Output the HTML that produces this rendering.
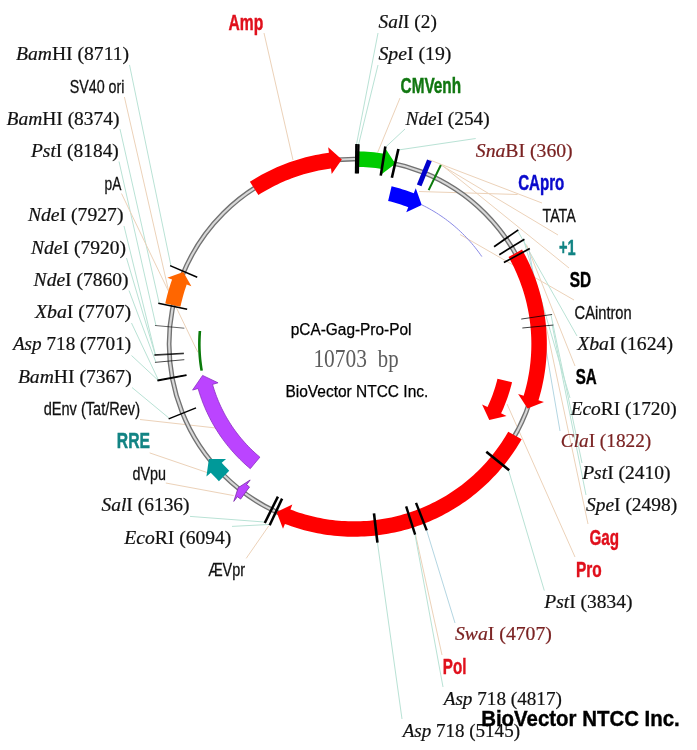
<!DOCTYPE html>
<html><head><meta charset="utf-8"><title>pCA-Gag-Pro-Pol</title>
<style>html,body{margin:0;padding:0;background:#fff}svg{display:block;will-change:transform;filter:blur(0.45px)}</style></head>
<body>
<svg width="697" height="750" viewBox="0 0 697 750">
<rect width="697" height="750" fill="#fff"/>
<line x1="129.5" y1="64.9" x2="171.01" y2="266.07" stroke="#b9e2d5" stroke-width="1"/>
<line x1="124.4" y1="97" x2="168.58" y2="290.85" stroke="#ecd2b9" stroke-width="1"/>
<line x1="120" y1="129" x2="159.27" y2="303.53" stroke="#b9e2d5" stroke-width="1"/>
<line x1="119" y1="161.5" x2="155.96" y2="325.56" stroke="#b9e2d5" stroke-width="1"/>
<line x1="121.5" y1="193.5" x2="197.81" y2="352.24" stroke="#ecd2b9" stroke-width="1"/>
<line x1="124" y1="226" x2="155.38" y2="354.64" stroke="#b9e2d5" stroke-width="1"/>
<line x1="126.5" y1="258" x2="155.42" y2="355.33" stroke="#b9e2d5" stroke-width="1"/>
<line x1="129" y1="290.5" x2="155.94" y2="362.29" stroke="#b9e2d5" stroke-width="1"/>
<line x1="131.5" y1="323" x2="158.37" y2="379.97" stroke="#b9e2d5" stroke-width="1"/>
<line x1="131.5" y1="355.5" x2="158.5" y2="380.66" stroke="#b9e2d5" stroke-width="1"/>
<line x1="132" y1="387.5" x2="169.59" y2="418.6" stroke="#b9e2d5" stroke-width="1"/>
<line x1="140" y1="419.5" x2="216" y2="428" stroke="#ecd2b9" stroke-width="1"/>
<line x1="149.7" y1="452.9" x2="208.5" y2="473" stroke="#ecd2b9" stroke-width="1"/>
<line x1="165.8" y1="483" x2="233.7" y2="495.6" stroke="#ecd2b9" stroke-width="1"/>
<line x1="190" y1="516.4" x2="265.18" y2="522.08" stroke="#b9e2d5" stroke-width="1"/>
<line x1="232" y1="526.4" x2="270.06" y2="524.43" stroke="#b9e2d5" stroke-width="1"/>
<line x1="246.2" y1="558.4" x2="268.8" y2="525.8" stroke="#ecd2b9" stroke-width="1"/>
<line x1="264" y1="33" x2="293" y2="160" stroke="#ecd2b9" stroke-width="1"/>
<line x1="378" y1="33" x2="356.36" y2="145.06" stroke="#b9e2d5" stroke-width="1"/>
<line x1="378" y1="65" x2="358.44" y2="145.1" stroke="#b9e2d5" stroke-width="1"/>
<line x1="400" y1="98" x2="377.62" y2="152.49" stroke="#ecd2b9" stroke-width="1"/>
<line x1="405" y1="129" x2="385.2" y2="147.49" stroke="#b9e2d5" stroke-width="1"/>
<line x1="475.7" y1="138.5" x2="398.19" y2="150" stroke="#b9e2d5" stroke-width="1"/>
<line x1="517.6" y1="194.5" x2="419" y2="191.5" stroke="#ecd2b9" stroke-width="1"/>
<line x1="542" y1="203" x2="429.61" y2="159.93" stroke="#ecd2b9" stroke-width="1"/>
<line x1="558" y1="235" x2="440.87" y2="164.96" stroke="#ecd2b9" stroke-width="1"/>
<line x1="569" y1="268" x2="442.89" y2="165.96" stroke="#ecd2b9" stroke-width="1"/>
<line x1="574" y1="300" x2="460" y2="234.5" stroke="#ecd2b9" stroke-width="1"/>
<line x1="577" y1="336" x2="517.47" y2="230.42" stroke="#b9e2d5" stroke-width="1"/>
<line x1="575" y1="366" x2="526.44" y2="244.55" stroke="#ecd2b9" stroke-width="1"/>
<line x1="570" y1="398" x2="523.58" y2="239.75" stroke="#b9e2d5" stroke-width="1"/>
<line x1="560" y1="431" x2="528.92" y2="248.97" stroke="#b4d6e2" stroke-width="1"/>
<line x1="582" y1="463" x2="550.91" y2="314.64" stroke="#b9e2d5" stroke-width="1"/>
<line x1="586" y1="495" x2="552.2" y2="325.15" stroke="#b9e2d5" stroke-width="1"/>
<line x1="588" y1="524" x2="546.37" y2="327.23" stroke="#ecd2b9" stroke-width="1"/>
<line x1="575" y1="557" x2="507" y2="404" stroke="#ecd2b9" stroke-width="1"/>
<line x1="544.3" y1="590.6" x2="508.4" y2="469.72" stroke="#b9e2d5" stroke-width="1"/>
<line x1="455" y1="623" x2="426.39" y2="529.46" stroke="#b4d6e2" stroke-width="1"/>
<line x1="442" y1="655" x2="415.6" y2="535" stroke="#ecd2b9" stroke-width="1"/>
<line x1="443" y1="687" x2="414.83" y2="533.56" stroke="#b9e2d5" stroke-width="1"/>
<line x1="402" y1="719" x2="377.32" y2="541.69" stroke="#b9e2d5" stroke-width="1"/>
<circle cx="354.1" cy="344.05" r="185.0" fill="none" stroke="#727272" stroke-width="4.8"/>
<circle cx="354.1" cy="344.05" r="185.0" fill="none" stroke="#d8d8d8" stroke-width="2.1"/>
<path d="M249.89,181.72 L252.76,179.91 L255.66,178.16 L258.6,176.45 L261.56,174.8 L264.55,173.2 L267.57,171.65 L270.62,170.15 L273.69,168.71 L276.79,167.32 L279.91,165.99 L283.05,164.71 L286.22,163.49 L289.4,162.32 L292.61,161.21 L295.84,160.16 L299.08,159.16 L302.34,158.22 L305.62,157.34 L308.91,156.52 L312.22,155.75 L315.54,155.04 L318.87,154.39 L322.21,153.8 L325.56,153.27 L328.92,152.8 L328.19,147.25 L341.84,159.46 L331.71,174.02 L330.98,168.47 L327.9,168.9 L324.82,169.39 L321.75,169.93 L318.7,170.53 L315.65,171.17 L312.61,171.88 L309.59,172.63 L306.58,173.44 L303.59,174.31 L300.61,175.22 L297.65,176.19 L294.7,177.21 L291.78,178.28 L288.87,179.4 L285.98,180.57 L283.12,181.8 L280.28,183.07 L277.45,184.39 L274.66,185.77 L271.89,187.19 L269.14,188.66 L266.42,190.18 L263.73,191.74 L261.06,193.36 L258.42,195.02Z" fill="#ff0000"/>
<path d="M357.13,151.32 L360.53,151.41 L363.93,151.55 L367.32,151.75 L370.71,152.02 L374.1,152.34 L377.48,152.72 L380.85,153.17 L384.22,153.67 L385.12,147.99 L395.4,163.72 L380.9,174.66 L381.8,168.98 L378.7,168.52 L375.6,168.11 L372.49,167.76 L369.38,167.46 L366.26,167.22 L363.14,167.03 L360.01,166.9 L356.88,166.82Z" fill="#00cc00"/>
<path d="M391.58,186.34 L394.41,187.04 L397.22,187.79 L400.02,188.59 L402.8,189.44 L405.57,190.34 L408.32,191.29 L411.06,192.29 L413.77,193.33 L415.76,188.31 L421.75,205.04 L406.26,212.3 L408.25,207.28 L405.79,206.33 L403.31,205.42 L400.81,204.56 L398.3,203.75 L395.77,202.98 L393.23,202.25 L390.68,201.57 L388.12,200.94Z" fill="#0000ff"/>
<path d="M421.84,204.86 L424.31,206.09 L426.76,207.36 L429.19,208.68 L431.59,210.04 L433.97,211.45 L436.32,212.89 L438.65,214.38 L440.95,215.91 L443.23,217.48 L445.47,219.09 L447.68,220.74 L449.87,222.43 L452.02,224.16 L454.15,225.93 L456.24,227.73 L458.3,229.57 L460.33,231.45 L462.32,233.36 L464.28,235.31 L466.2,237.29 L468.09,239.31 L469.94,241.36 L471.75,243.44 L473.53,245.56 L475.27,247.71 L476.96,249.88 L478.63,252.09 L480.25,254.33 L481.83,256.59" fill="none" stroke="#8a8ae6" stroke-width="1"/>
<path d="M522.03,249.43 L523.66,252.4 L525.25,255.39 L526.78,258.42 L528.26,261.47 L529.69,264.54 L531.06,267.64 L532.38,270.77 L533.64,273.92 L534.84,277.08 L535.99,280.27 L537.09,283.48 L538.12,286.71 L539.1,289.96 L540.03,293.22 L540.89,296.5 L541.7,299.79 L542.45,303.1 L543.14,306.42 L543.77,309.75 L544.35,313.09 L544.86,316.44 L545.32,319.8 L545.72,323.17 L546.05,326.54 L546.33,329.92 L546.55,333.3 L546.71,336.69 L546.81,340.08 L546.85,343.47 L546.83,346.86 L546.75,350.25 L546.61,353.64 L546.41,357.02 L546.16,360.4 L545.84,363.78 L545.46,367.15 L545.03,370.51 L544.53,373.86 L543.98,377.21 L543.36,380.54 L542.69,383.86 L541.96,387.18 L541.18,390.47 L540.33,393.76 L539.43,397.02 L538.47,400.28 L543.97,401.95 L527.55,408.38 L518.14,394.08 L523.64,395.75 L524.52,392.76 L525.35,389.76 L526.13,386.74 L526.86,383.71 L527.53,380.66 L528.14,377.61 L528.71,374.54 L529.22,371.46 L529.67,368.38 L530.07,365.29 L530.42,362.19 L530.71,359.09 L530.95,355.98 L531.13,352.86 L531.26,349.75 L531.33,346.63 L531.35,343.51 L531.31,340.4 L531.22,337.28 L531.07,334.17 L530.87,331.06 L530.62,327.95 L530.31,324.85 L529.94,321.75 L529.52,318.66 L529.05,315.58 L528.52,312.51 L527.94,309.44 L527.3,306.39 L526.61,303.35 L525.87,300.32 L525.08,297.31 L524.23,294.31 L523.33,291.32 L522.37,288.35 L521.37,285.4 L520.31,282.47 L519.2,279.56 L518.04,276.66 L516.83,273.79 L515.57,270.94 L514.26,268.11 L512.9,265.3 L511.49,262.52 L510.03,259.77 L508.52,257.04Z" fill="#ff0000"/>
<path d="M512.04,382.26 L511.31,385.17 L510.52,388.07 L509.68,390.96 L508.79,393.82 L507.84,396.67 L506.84,399.51 L505.79,402.32 L504.69,405.11 L503.54,407.89 L502.33,410.64 L501.07,413.37 L506.5,415.93 L489.27,419.9 L482.08,404.41 L487.51,406.97 L488.65,404.49 L489.74,402 L490.79,399.48 L491.79,396.94 L492.74,394.39 L493.65,391.82 L494.51,389.23 L495.32,386.63 L496.08,384.01 L496.8,381.38 L497.46,378.73Z" fill="#ff0000"/>
<path d="M521.65,439.23 L519.96,442.16 L518.21,445.05 L516.41,447.92 L514.56,450.75 L512.67,453.55 L510.72,456.31 L508.73,459.05 L506.68,461.74 L504.6,464.4 L502.46,467.02 L500.28,469.61 L498.06,472.15 L495.79,474.66 L493.47,477.12 L491.11,479.55 L488.72,481.93 L486.28,484.27 L483.8,486.57 L481.27,488.83 L478.71,491.03 L476.12,493.2 L473.48,495.32 L470.81,497.39 L468.1,499.41 L465.35,501.39 L462.58,503.32 L459.77,505.2 L456.92,507.03 L454.05,508.8 L451.14,510.53 L448.2,512.21 L445.24,513.84 L442.24,515.41 L439.22,516.93 L436.18,518.4 L433.11,519.81 L430.01,521.17 L426.89,522.47 L423.75,523.72 L420.58,524.92 L417.4,526.06 L414.2,527.14 L410.98,528.17 L407.74,529.14 L404.48,530.05 L401.21,530.9 L397.92,531.7 L394.62,532.44 L391.31,533.12 L387.99,533.75 L384.65,534.31 L381.31,534.82 L377.96,535.27 L374.6,535.66 L371.23,535.99 L367.86,536.26 L364.49,536.47 L361.11,536.62 L357.73,536.72 L354.35,536.75 L350.97,536.72 L347.59,536.64 L344.21,536.5 L340.83,536.29 L337.46,536.03 L334.1,535.71 L330.74,535.33 L327.38,534.89 L324.04,534.39 L320.7,533.83 L317.38,533.22 L314.06,532.55 L310.76,531.81 L307.48,531.02 L304.2,530.18 L300.94,529.27 L297.7,528.31 L294.48,527.29 L291.27,526.22 L288.08,525.09 L284.92,523.9 L283.01,528.85 L276.5,511.99 L292.35,504.58 L290.45,509.53 L293.36,510.62 L296.29,511.66 L299.24,512.65 L302.21,513.59 L305.19,514.47 L308.19,515.3 L311.2,516.08 L314.23,516.81 L317.26,517.48 L320.31,518.1 L323.37,518.67 L326.44,519.18 L329.52,519.64 L332.6,520.04 L335.69,520.39 L338.79,520.69 L341.89,520.93 L345,521.12 L348.11,521.25 L351.22,521.33 L354.33,521.35 L357.44,521.32 L360.55,521.23 L363.66,521.09 L366.76,520.9 L369.86,520.65 L372.96,520.34 L376.05,519.99 L379.14,519.57 L382.21,519.11 L385.28,518.59 L388.34,518.01 L391.38,517.39 L394.42,516.7 L397.44,515.97 L400.45,515.18 L403.45,514.34 L406.43,513.45 L409.39,512.51 L412.34,511.51 L415.27,510.46 L418.18,509.36 L421.07,508.21 L423.94,507.01 L426.79,505.76 L429.62,504.46 L432.42,503.11 L435.2,501.71 L437.95,500.27 L440.68,498.77 L443.38,497.23 L446.06,495.64 L448.7,494 L451.32,492.32 L453.91,490.59 L456.46,488.82 L458.99,487 L461.48,485.13 L463.94,483.23 L466.36,481.28 L468.76,479.29 L471.11,477.26 L473.43,475.18 L475.71,473.07 L477.96,470.91 L480.17,468.72 L482.33,466.49 L484.46,464.22 L486.55,461.91 L488.6,459.57 L490.6,457.19 L492.57,454.78 L494.49,452.34 L496.37,449.86 L498.2,447.34 L499.99,444.8 L501.74,442.22 L503.44,439.62 L505.09,436.98 L506.7,434.32 L508.26,431.63Z" fill="#ff0000"/>
<path d="M240.64,499.07 L237.42,496.66 L233.78,501.42 L238.18,487.71 L250.18,479.97 L246.53,484.74 L249.5,486.96Z" fill="#bb44ff" stroke="#7a2aa8" stroke-width="0.8"/>
<path d="M218.9,481.15 L216.14,478.37 L213.43,475.53 L210.78,472.64 L206.43,476.55 L208.88,458.99 L226.08,458.92 L221.72,462.82 L224.17,465.49 L226.67,468.11 L229.22,470.68Z" fill="#009999"/>
<path d="M250.27,468.67 L248.1,466.82 L245.95,464.93 L243.84,463.01 L241.76,461.05 L239.72,459.05 L237.71,457.02 L235.74,454.96 L233.81,452.85 L231.91,450.72 L230.05,448.55 L228.23,446.35 L226.45,444.12 L224.71,441.86 L223,439.56 L221.34,437.24 L219.72,434.89 L218.14,432.51 L216.61,430.1 L215.11,427.67 L213.66,425.21 L212.26,422.72 L210.89,420.21 L209.57,417.68 L208.3,415.12 L207.07,412.55 L205.89,409.95 L204.75,407.33 L203.66,404.69 L202.62,402.03 L201.62,399.35 L200.67,396.66 L199.77,393.95 L198.91,391.23 L198.11,388.49 L192.58,390.06 L202.61,375.42 L218.06,382.8 L212.53,384.38 L213.26,386.86 L214.04,389.34 L214.86,391.79 L215.72,394.24 L216.63,396.67 L217.57,399.08 L218.56,401.48 L219.6,403.85 L220.67,406.21 L221.78,408.55 L222.94,410.87 L224.14,413.17 L225.37,415.45 L226.65,417.7 L227.97,419.93 L229.32,422.14 L230.72,424.33 L232.15,426.49 L233.62,428.62 L235.13,430.73 L236.67,432.81 L238.25,434.87 L239.87,436.89 L241.52,438.89 L243.21,440.86 L244.93,442.79 L246.69,444.7 L248.48,446.58 L250.3,448.42 L252.15,450.23 L254.04,452.01 L255.95,453.75 L257.9,455.46 L259.88,457.14Z" fill="#bb44ff" stroke="#8a30c0" stroke-width="0.8"/>
<path d="M201.65,370.66 L201.19,367.85 L200.78,365.04 L200.42,362.22 L200.11,359.39 L199.86,356.56 L199.65,353.72 L199.5,350.88 L199.4,348.04 L199.35,345.2 L199.36,342.35 L199.42,339.51 L199.53,336.67 L199.69,333.83 L199.9,330.99" fill="none" stroke="#0a7a0a" stroke-width="2.6"/>
<path d="M165.24,303.56 L166.03,300.06 L166.88,296.58 L167.79,293.11 L168.77,289.65 L169.81,286.22 L170.92,282.81 L172.09,279.42 L167.37,277.74 L183.31,271.91 L191.4,286.28 L186.69,284.6 L185.62,287.72 L184.6,290.86 L183.64,294.02 L182.74,297.19 L181.9,300.39 L181.12,303.59 L180.4,306.81Z" fill="#ff6600"/>
<line x1="419.18" y1="185.38" x2="429.42" y2="160.4" stroke="#0000cc" stroke-width="5" opacity="1"/>
<line x1="428.66" y1="190.16" x2="440.87" y2="164.96" stroke="#0a7a0a" stroke-width="2" opacity="1"/>
<line x1="356.03" y1="173.56" x2="356.37" y2="144.06" stroke="#000" stroke-width="2.4" opacity="1"/>
<line x1="357.82" y1="173.59" x2="358.46" y2="144.1" stroke="#000" stroke-width="2.4" opacity="1"/>
<line x1="380.74" y1="175.64" x2="385.35" y2="146.51" stroke="#000" stroke-width="2.6" opacity="1"/>
<line x1="391.87" y1="177.79" x2="398.41" y2="149.02" stroke="#000" stroke-width="2.6" opacity="1"/>
<line x1="494.07" y1="246.69" x2="518.29" y2="229.85" stroke="#000" stroke-width="1.7" opacity="1"/>
<line x1="499.3" y1="254.69" x2="524.43" y2="239.22" stroke="#000" stroke-width="1.7" opacity="1"/>
<line x1="503.88" y1="262.59" x2="529.8" y2="248.5" stroke="#000" stroke-width="1.7" opacity="1"/>
<line x1="521.24" y1="319.07" x2="552.1" y2="314.46" stroke="#000" stroke-width="1" opacity="0.75"/>
<line x1="522.34" y1="328" x2="553.39" y2="325.04" stroke="#000" stroke-width="1" opacity="0.75"/>
<line x1="486.3" y1="451.72" x2="509.18" y2="470.35" stroke="#000" stroke-width="2.6" opacity="1"/>
<line x1="416.03" y1="502.9" x2="426.75" y2="530.39" stroke="#000" stroke-width="2.4" opacity="1"/>
<line x1="406.14" y1="506.42" x2="415.14" y2="534.51" stroke="#000" stroke-width="2.4" opacity="1"/>
<line x1="373.99" y1="513.39" x2="377.43" y2="542.68" stroke="#000" stroke-width="2.6" opacity="1"/>
<line x1="282.1" y1="498.6" x2="269.64" y2="525.34" stroke="#000" stroke-width="2.5" opacity="1"/>
<line x1="277.92" y1="496.58" x2="264.74" y2="522.97" stroke="#000" stroke-width="2.5" opacity="1"/>
<line x1="196.02" y1="407.92" x2="168.66" y2="418.97" stroke="#000" stroke-width="1.4" opacity="1"/>
<line x1="186.51" y1="375.41" x2="157.51" y2="380.84" stroke="#000" stroke-width="1.2" opacity="1"/>
<line x1="186.4" y1="374.83" x2="157.39" y2="380.15" stroke="#000" stroke-width="1.2" opacity="1"/>
<line x1="184.32" y1="359.68" x2="154.94" y2="362.39" stroke="#000" stroke-width="1" opacity="0.7"/>
<line x1="183.87" y1="353.72" x2="154.42" y2="355.39" stroke="#000" stroke-width="1" opacity="0.8"/>
<line x1="183.84" y1="353.12" x2="154.38" y2="354.69" stroke="#000" stroke-width="1" opacity="0.8"/>
<line x1="184.34" y1="328.21" x2="154.96" y2="325.47" stroke="#000" stroke-width="1" opacity="0.6"/>
<line x1="187.17" y1="309.33" x2="158.29" y2="303.32" stroke="#000" stroke-width="1.5" opacity="1"/>
<line x1="197.24" y1="277.24" x2="170.09" y2="265.68" stroke="#000" stroke-width="1.5" opacity="1"/>
<text x="16" y="60.05" font-family='"Liberation Serif", serif' font-size="19.5" fill="#111" stroke="#111" stroke-width="0.22" textLength="113.1" lengthAdjust="spacingAndGlyphs"><tspan font-style="italic">Bam</tspan>HI (8711)</text>
<text x="69.7" y="92.79" font-family='"Liberation Sans", sans-serif' font-size="19" fill="#111" stroke="#111" stroke-width="0.3" textLength="54.8" lengthAdjust="spacingAndGlyphs">SV40 ori</text>
<text x="6.5" y="124.53" font-family='"Liberation Serif", serif' font-size="19.5" fill="#111" stroke="#111" stroke-width="0.22" textLength="113.1" lengthAdjust="spacingAndGlyphs"><tspan font-style="italic">Bam</tspan>HI (8374)</text>
<text x="31" y="156.78" font-family='"Liberation Serif", serif' font-size="19.5" fill="#111" stroke="#111" stroke-width="0.22" textLength="87.8" lengthAdjust="spacingAndGlyphs"><tspan font-style="italic">Pst</tspan>I (8184)</text>
<text x="104.6" y="189.53" font-family='"Liberation Sans", sans-serif' font-size="19" fill="#111" stroke="#111" stroke-width="0.3" textLength="16.8" lengthAdjust="spacingAndGlyphs">pA</text>
<text x="27.9" y="221.27" font-family='"Liberation Serif", serif' font-size="19.5" fill="#111" stroke="#111" stroke-width="0.22" textLength="95.6" lengthAdjust="spacingAndGlyphs"><tspan font-style="italic">Nde</tspan>I (7927)</text>
<text x="31" y="253.51" font-family='"Liberation Serif", serif' font-size="19.5" fill="#111" stroke="#111" stroke-width="0.22" textLength="95" lengthAdjust="spacingAndGlyphs"><tspan font-style="italic">Nde</tspan>I (7920)</text>
<text x="33.6" y="285.76" font-family='"Liberation Serif", serif' font-size="19.5" fill="#111" stroke="#111" stroke-width="0.22" textLength="95" lengthAdjust="spacingAndGlyphs"><tspan font-style="italic">Nde</tspan>I (7860)</text>
<text x="34.9" y="318" font-family='"Liberation Serif", serif' font-size="19.5" fill="#111" stroke="#111" stroke-width="0.22" textLength="96.3" lengthAdjust="spacingAndGlyphs"><tspan font-style="italic">Xba</tspan>I (7707)</text>
<text x="12.9" y="350.25" font-family='"Liberation Serif", serif' font-size="19.5" fill="#111" stroke="#111" stroke-width="0.22" textLength="118.3" lengthAdjust="spacingAndGlyphs"><tspan font-style="italic">Asp</tspan> 718 (7701)</text>
<text x="17.9" y="382.5" font-family='"Liberation Serif", serif' font-size="19.5" fill="#111" stroke="#111" stroke-width="0.22" textLength="113.8" lengthAdjust="spacingAndGlyphs"><tspan font-style="italic">Bam</tspan>HI (7367)</text>
<text x="43.7" y="415.24" font-family='"Liberation Sans", sans-serif' font-size="19" fill="#111" stroke="#111" stroke-width="0.3" textLength="96.3" lengthAdjust="spacingAndGlyphs">dEnv (Tat/Rev)</text>
<text x="116.8" y="447.98" font-family='"Liberation Sans", sans-serif' font-size="22.5" fill="#128484" font-weight="bold" stroke="#128484" stroke-width="0.45" textLength="33.2" lengthAdjust="spacingAndGlyphs">RRE</text>
<text x="132.5" y="479.73" font-family='"Liberation Sans", sans-serif' font-size="19" fill="#111" stroke="#111" stroke-width="0.3" textLength="33.5" lengthAdjust="spacingAndGlyphs">dVpu</text>
<text x="101.5" y="511.47" font-family='"Liberation Serif", serif' font-size="19.5" fill="#111" stroke="#111" stroke-width="0.22" textLength="88.1" lengthAdjust="spacingAndGlyphs"><tspan font-style="italic">Sal</tspan>I (6136)</text>
<text x="124.3" y="543.72" font-family='"Liberation Serif", serif' font-size="19.5" fill="#111" stroke="#111" stroke-width="0.22" textLength="107" lengthAdjust="spacingAndGlyphs"><tspan font-style="italic">Eco</tspan>RI (6094)</text>
<text x="208.2" y="576.46" font-family='"Liberation Sans", sans-serif' font-size="19" fill="#111" stroke="#111" stroke-width="0.3" textLength="36.9" lengthAdjust="spacingAndGlyphs">ÆVpr</text>
<text x="228.5" y="30" font-family='"Liberation Sans", sans-serif' font-size="22.5" fill="#e0101c" font-weight="bold" stroke="#e0101c" stroke-width="0.45" textLength="34.7" lengthAdjust="spacingAndGlyphs">Amp</text>
<text x="378.5" y="27.8" font-family='"Liberation Serif", serif' font-size="19.5" fill="#111" stroke="#111" stroke-width="0.22" textLength="58.3" lengthAdjust="spacingAndGlyphs"><tspan font-style="italic">Sal</tspan>I (2)</text>
<text x="378.5" y="60.05" font-family='"Liberation Serif", serif' font-size="19.5" fill="#111" stroke="#111" stroke-width="0.22" textLength="72.9" lengthAdjust="spacingAndGlyphs"><tspan font-style="italic">Spe</tspan>I (19)</text>
<text x="400.6" y="93.29" font-family='"Liberation Sans", sans-serif' font-size="22.5" fill="#117711" font-weight="bold" stroke="#117711" stroke-width="0.45" textLength="60.4" lengthAdjust="spacingAndGlyphs">CMVenh</text>
<text x="405.6" y="124.53" font-family='"Liberation Serif", serif' font-size="19.5" fill="#111" stroke="#111" stroke-width="0.22" textLength="84" lengthAdjust="spacingAndGlyphs"><tspan font-style="italic">Nde</tspan>I (254)</text>
<text x="475.8" y="156.78" font-family='"Liberation Serif", serif' font-size="19.5" fill="#7a2222" stroke="#7a2222" stroke-width="0.22" textLength="96.9" lengthAdjust="spacingAndGlyphs"><tspan font-style="italic">Sna</tspan>BI (360)</text>
<text x="518.2" y="190.03" font-family='"Liberation Sans", sans-serif' font-size="22.5" fill="#0a0acc" font-weight="bold" stroke="#0a0acc" stroke-width="0.45" textLength="46.1" lengthAdjust="spacingAndGlyphs">CApro</text>
<text x="542.5" y="221.77" font-family='"Liberation Sans", sans-serif' font-size="19" fill="#111" stroke="#111" stroke-width="0.3" textLength="33.2" lengthAdjust="spacingAndGlyphs">TATA</text>
<text x="559.1" y="254.51" font-family='"Liberation Sans", sans-serif' font-size="22.5" fill="#128484" font-weight="bold" stroke="#128484" stroke-width="0.45" textLength="16.6" lengthAdjust="spacingAndGlyphs">+1</text>
<text x="569.8" y="286.76" font-family='"Liberation Sans", sans-serif' font-size="22.5" fill="#000" font-weight="bold" stroke="#000" stroke-width="0.45" textLength="21.4" lengthAdjust="spacingAndGlyphs">SD</text>
<text x="574.6" y="318.5" font-family='"Liberation Sans", sans-serif' font-size="19" fill="#111" stroke="#111" stroke-width="0.3" textLength="57.1" lengthAdjust="spacingAndGlyphs">CAintron</text>
<text x="577.2" y="350.25" font-family='"Liberation Serif", serif' font-size="19.5" fill="#111" stroke="#111" stroke-width="0.22" textLength="95.8" lengthAdjust="spacingAndGlyphs"><tspan font-style="italic">Xba</tspan>I (1624)</text>
<text x="575.7" y="383.5" font-family='"Liberation Sans", sans-serif' font-size="22.5" fill="#000" font-weight="bold" stroke="#000" stroke-width="0.45" textLength="21" lengthAdjust="spacingAndGlyphs">SA</text>
<text x="570.7" y="414.74" font-family='"Liberation Serif", serif' font-size="19.5" fill="#111" stroke="#111" stroke-width="0.22" textLength="106" lengthAdjust="spacingAndGlyphs"><tspan font-style="italic">Eco</tspan>RI (1720)</text>
<text x="560.8" y="446.98" font-family='"Liberation Serif", serif' font-size="19.5" fill="#7a2222" stroke="#7a2222" stroke-width="0.22" textLength="90.4" lengthAdjust="spacingAndGlyphs"><tspan font-style="italic">Cla</tspan>I (1822)</text>
<text x="582.2" y="479.23" font-family='"Liberation Serif", serif' font-size="19.5" fill="#111" stroke="#111" stroke-width="0.22" textLength="88.4" lengthAdjust="spacingAndGlyphs"><tspan font-style="italic">Pst</tspan>I (2410)</text>
<text x="586" y="511.47" font-family='"Liberation Serif", serif' font-size="19.5" fill="#111" stroke="#111" stroke-width="0.22" textLength="91.2" lengthAdjust="spacingAndGlyphs"><tspan font-style="italic">Spe</tspan>I (2498)</text>
<text x="589.4" y="544.72" font-family='"Liberation Sans", sans-serif' font-size="22.5" fill="#e0101c" font-weight="bold" stroke="#e0101c" stroke-width="0.45" textLength="29.6" lengthAdjust="spacingAndGlyphs">Gag</text>
<text x="575.9" y="576.96" font-family='"Liberation Sans", sans-serif' font-size="22.5" fill="#e0101c" font-weight="bold" stroke="#e0101c" stroke-width="0.45" textLength="25.8" lengthAdjust="spacingAndGlyphs">Pro</text>
<text x="544.3" y="608.21" font-family='"Liberation Serif", serif' font-size="19.5" fill="#111" stroke="#111" stroke-width="0.22" textLength="88.1" lengthAdjust="spacingAndGlyphs"><tspan font-style="italic">Pst</tspan>I (3834)</text>
<text x="455" y="640.45" font-family='"Liberation Serif", serif' font-size="19.5" fill="#7a2222" stroke="#7a2222" stroke-width="0.22" textLength="96.9" lengthAdjust="spacingAndGlyphs"><tspan font-style="italic">Swa</tspan>I (4707)</text>
<text x="442.8" y="673.7" font-family='"Liberation Sans", sans-serif' font-size="22.5" fill="#e0101c" font-weight="bold" stroke="#e0101c" stroke-width="0.45" textLength="23.6" lengthAdjust="spacingAndGlyphs">Pol</text>
<text x="443.7" y="704.94" font-family='"Liberation Serif", serif' font-size="19.5" fill="#111" stroke="#111" stroke-width="0.22" textLength="118.2" lengthAdjust="spacingAndGlyphs"><tspan font-style="italic">Asp</tspan> 718 (4817)</text>
<text x="402.7" y="737.19" font-family='"Liberation Serif", serif' font-size="19.5" fill="#111" stroke="#111" stroke-width="0.22" textLength="117.3" lengthAdjust="spacingAndGlyphs"><tspan font-style="italic">Asp</tspan> 718 (5145)</text>
<text x="290.7" y="335" font-family='"Liberation Sans", sans-serif' font-size="16" fill="#000" stroke="#000" stroke-width="0.25" textLength="120.8" lengthAdjust="spacingAndGlyphs">pCA-Gag-Pro-Pol</text>
<text x="313.4" y="366.6" font-family='"Liberation Serif", serif' font-size="25" fill="#5c5c5c" textLength="53.6" lengthAdjust="spacingAndGlyphs">10703</text>
<text x="377.8" y="366.6" font-family='"Liberation Serif", serif' font-size="25" fill="#5c5c5c" textLength="20.8" lengthAdjust="spacingAndGlyphs">bp</text>
<text x="285.5" y="396.5" font-family='"Liberation Sans", sans-serif' font-size="16" fill="#000" stroke="#000" stroke-width="0.25" textLength="142.8" lengthAdjust="spacingAndGlyphs">BioVector NTCC Inc.</text>
<text x="481.2" y="726" font-family='"Liberation Sans", sans-serif' font-size="22.3" font-weight="bold" fill="#000" stroke="#000" stroke-width="0.4" textLength="198.6" lengthAdjust="spacingAndGlyphs">BioVector NTCC Inc.</text>
</svg>
</body></html>
